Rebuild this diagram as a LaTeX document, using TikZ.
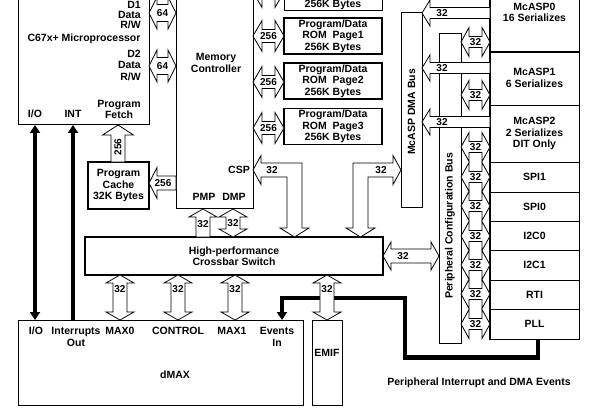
\documentclass[tikz,border=0pt]{standalone}
\usepackage{fontspec}
\setmainfont{Liberation Sans}
\usepackage{graphicx}
\usetikzlibrary{arrows.meta}

% block arrows: head length, head half width, shaft half width
\newcommand\ahl{8}
\newcommand\ahw{14}
\newcommand\asw{7}

% two heads, horizontal: name, left x, right x, y, label x, label
\newcommand\blkdh[6]{%
  \draw[blockarrow] (#2,#4) -- ({#2+\ahl},{#4-\ahw}) -- ({#2+\ahl},{#4-\asw})
    -- ({#3-\ahl},{#4-\asw}) -- ({#3-\ahl},{#4-\ahw}) -- (#3,#4)
    -- ({#3-\ahl},{#4+\ahw}) -- ({#3-\ahl},{#4+\asw}) -- ({#2+\ahl},{#4+\asw})
    -- ({#2+\ahl},{#4+\ahw}) -- cycle;
  \node[lbl] (#1) at (#5,#4) {#6};}
% two heads, vertical: name, x, top y, bottom y, label y, label
\newcommand\blkdv[6]{%
  \draw[blockarrow] (#2,#3) -- ({#2+\ahw},{#3+\ahl}) -- ({#2+\asw},{#3+\ahl})
    -- ({#2+\asw},{#4-\ahl}) -- ({#2+\ahw},{#4-\ahl}) -- (#2,#4)
    -- ({#2-\ahw},{#4-\ahl}) -- ({#2-\asw},{#4-\ahl}) -- ({#2-\asw},{#3+\ahl})
    -- ({#2-\ahw},{#3+\ahl}) -- cycle;
  \node[lbl] (#1) at (#2,#5) {#6};}
% one head, pointing left: name, tip x, tail x, y, label x, label
\newcommand\blkl[6]{%
  \draw[blockarrow] (#2,#4) -- ({#2+\ahl},{#4-\ahw}) -- ({#2+\ahl},{#4-\asw})
    -- (#3,{#4-\asw}) -- (#3,{#4+\asw}) -- ({#2+\ahl},{#4+\asw})
    -- ({#2+\ahl},{#4+\ahw}) -- cycle;
  \node[lbl] (#1) at (#5,#4) {#6};}
% one head, pointing up: name, x, tip y, tail y, label y, label
\newcommand\blku[6]{%
  \draw[blockarrow] (#2,#3) -- ({#2+\ahw},{#3+\ahl}) -- ({#2+\asw},{#3+\ahl})
    -- ({#2+\asw},#4) -- ({#2-\asw},#4) -- ({#2-\asw},{#3+\ahl})
    -- ({#2-\ahw},{#3+\ahl}) -- cycle;
  \node[lbl] (#1) at (#2,#5) {#6};}

\begin{document}
\begin{tikzpicture}[x=1pt, y=-1pt,
    every node/.style={font=\bfseries\fontsize{10.5}{11.5}\selectfont, inner sep=0pt, align=center},
    box/.style={draw, line width=1.2pt},
    bus/.style={draw, line width=0.8pt},
    row/.style={draw, line width=0.7pt, minimum width=89pt},
    blockarrow/.style={draw, fill=white, line width=0.8pt, line join=miter},
    lbl/.style={font=\bfseries\fontsize{10}{10}\selectfont},
    heavy/.style={line width=4.5pt, line join=miter},
    >={Triangle[length=8pt,width=10pt]}
  ]
  \useasboundingbox (0,0) rectangle (605,409);
  \clip (0,0) rectangle (605,409);

  % processor and memory side
  \node[box, anchor=south west, minimum width=131pt, minimum height=170pt] (mp) at (18,125) {};
  \node[anchor=east, align=right, font=\bfseries\fontsize{10.5}{10}\selectfont] (d1) at (141,14.5) {D1\\Data\\R/W};
  \node (mpname) at (84,39) {C67x+ Microprocessor};
  \node[anchor=east, align=right] (d2) at (141,65) {D2\\Data\\R/W};
  \node (fetch) at (119,109.5) {Program\\Fetch};
  \node (mpio) at (35,114) {I/O};
  \node (mpint) at (73,114) {INT};

  \node[box, anchor=south west, minimum width=77pt, minimum height=250pt] (mc) at (176,209) {};
  \node (mcname) at (216,63) {Memory\\Controller};
  \node (csp) at (239,170) {CSP};
  \node (pmp) at (204,197) {PMP};
  \node (dmp) at (234,197) {DMP};

  \node[box, anchor=south west, minimum width=98pt, minimum height=41pt] (rom0) at (284,11) {};
  \node (rom0t) at (333,4.8) {256K Bytes};
  \foreach \y/\p in {36/1, 81/2, 126.5/3}
    \node[box, minimum width=98pt, minimum height=36pt] (rom\p) at (333,\y)
      {Program/Data\\ROM~~Page\p\\256K Bytes};

  \node[box, minimum width=61pt, minimum height=47pt] (cache) at (118.5,185.5) {Program\\Cache\\32K Bytes};
  \node[box, minimum width=298pt, minimum height=38pt] (xbar) at (234,256) {High-performance\\Crossbar Switch};

  % dMAX and EMIF
  \node[box, anchor=north west, minimum width=285pt, minimum height=85pt] (dmax) at (18,320) {};
  \node (dio) at (36,331) {I/O};
  \node (dint) at (76,337) {Interrupts\\Out};
  \node (dmax0) at (120,331) {MAX0};
  \node (dctl) at (178,331) {CONTROL};
  \node (dmax1) at (232,331) {MAX1};
  \node (dev) at (277,337) {Events\\In};
  \node (dname) at (175,375) {dMAX};
  \node[box, anchor=north west, minimum width=30pt, minimum height=85pt] (emif) at (312,320) {};
  \node (emift) at (327,353) {EMIF};

  % buses and peripherals
  \node[bus, anchor=north west, minimum width=21pt, minimum height=195pt] (dmabus) at (401,12) {};
  \node[rotate=90] (dmabust) at (411.5,112) {McASP DMA Bus};
  \node[bus, anchor=north west, minimum width=22pt, minimum height=310pt] (cfgbus) at (439,33) {};
  \node[rotate=90] (cfgbust) at (450,226) {Peripheral Configuration Bus};

  \foreach \n/\y/\h/\t in {mcasp0/12.5/79/{McASP0\\16 Serializes},
      mcasp1/78/54/{McASP1\\6 Serializes}, mcasp2/133.5/57/{McASP2\\2 Serializes\\DIT Only},
      spi1/177/30/SPI1, spi0/206.5/29/SPI0, i2c0/235.5/29/I2C0,
      i2c1/265/30/I2C1, rti/294.5/29/RTI, pll/324/30/PLL}
    \node[row, minimum height=\h pt] (\n) at (534.5,\y) {\t};
  \draw[line width=1.3pt] (mcasp0.north west) rectangle (pll.south east);

  \node (caption) at (479,383) {Peripheral Interrupt and DMA Events};

  % heavy signal lines
  \coordinate (evout) at ([xshift=3.5pt]pll.south);
  \coordinate (evin) at (282,320);
  \draw[heavy, <->] (mp.south -| mpio) -- (dmax.north -| mpio);
  \draw[heavy, ->] (dmax.north -| mpint) -- (mp.south -| mpint);
  \draw[heavy, ->] (evout) -- ++(0,18) -| (405,298) -| (evin);

  % data paths
  \begin{scope}
    \def\ahw{16}\def\asw{8.5}
    \blkdh{p64a}{149}{176}{13}{162.5}{64}
    \blkdh{p64b}{149}{176}{66}{162.5}{64}
  \end{scope}
  \begin{scope}
    \def\ahl{9}\def\ahw{15.5}\def\asw{6.5}
    \blkdh{r2560}{253}{284}{-8}{268.5}{}
    \foreach \y [count=\i] in {36,82,128}
      {\blkdh{r256\i}{253}{284}{\y}{268.5}{256}}
  \end{scope}
  \begin{scope}
    \def\ahw{15.5}
    \blkl{c256}{149}{176}{183}{163}{256}
    \def\ahl{10}
    \blku{f256}{118}{125}{162}{147}{\rotatebox{90}{256}}
  \end{scope}

  \blku{pmp32}{203}{209}{237}{224}{32}
  \blkdv{dmp32}{233}{209}{237}{223}{32}
  \foreach \x [count=\i] in {120,178,235,327}
    {\blkdv{low\i}{\x}{275}{320}{289}{32}}
  \blkdh{xcfg}{383}{439}{256}{403}{32}

  % CSP to crossbar, crossbar to McASP DMA bus
  \draw[blockarrow] (253,170) -- (261,155.5) -- (261,163) -- (302,163) -- (302,228)
    -- (309,228) -- (294.5,237) -- (280,228) -- (287,228) -- (287,177) -- (261,177)
    -- (261,184.5) -- cycle;
  \node[lbl] (csp32) at (272,170) {32};
  \draw[blockarrow] (401,170) -- (393,155.5) -- (393,163) -- (353,163) -- (353,228)
    -- (346,228) -- (360.5,237) -- (375,228) -- (368,228) -- (368,177) -- (393,177)
    -- (393,184.5) -- cycle;
  \node[lbl] (dma32) at (381,170) {32};

  \begin{scope}
    \def\ahw{13}\def\asw{5.5}
    \foreach \y [count=\i] in {13,68,122}
      {\blkl{mc32\i}{422}{490}{\y}{442}{32}}
  \end{scope}
  \begin{scope}
    \def\ahw{14.5}\def\asw{5.5}
    \foreach \y [count=\i] in {42,95,147,177,206,236,265,294,324}
      {\blkdh{cf32\i}{461}{490}{\y}{475.5}{32}}
  \end{scope}
\end{tikzpicture}
\end{document}
